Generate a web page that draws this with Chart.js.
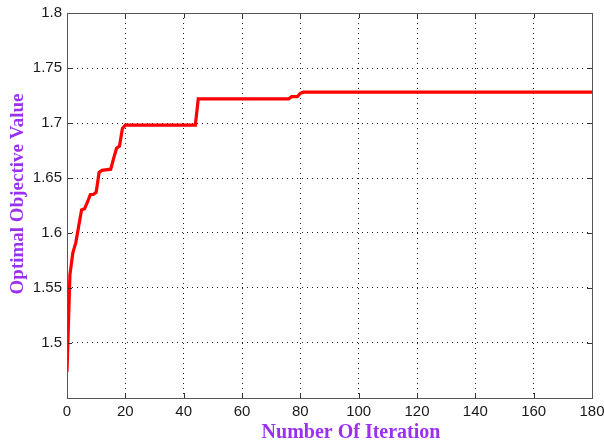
<!DOCTYPE html>
<html>
<head>
<meta charset="utf-8">
<script src="https://cdn.jsdelivr.net/npm/chart.js@4/dist/chart.umd.min.js"></script>
<style>
  html, body { margin: 0; padding: 0; background: #fff; }
  #wrap { width: 604px; height: 444px; position: relative; }
</style>
</head>
<body>
<div id="wrap"><canvas id="c" width="604" height="444"></canvas></div>
<script>
// ── Datos ──────────────────────────────────────────────────────────────
const iterations = [0, 1, 2, 3, 4, 5, 6, 7, 8, 9, 10, 11, 12, 15, 16, 17, 18, 19, 20, 44, 45, 76, 77, 79, 80, 81, 180];
const objValues  = [1.474, 1.562, 1.582, 1.591, 1.606, 1.621, 1.622, 1.628, 1.635, 1.635, 1.637, 1.655, 1.657, 1.658, 1.668, 1.677, 1.679, 1.695, 1.698, 1.698, 1.722, 1.722, 1.724, 1.724, 1.727, 1.728, 1.728];
const xTicks = [0, 20, 40, 60, 80, 100, 120, 140, 160, 180];
const yTicks = [1.45, 1.5, 1.55, 1.6, 1.65, 1.7, 1.75, 1.8];
const xTitle = 'Number Of Iteration';
const yTitle = 'Optimal Objective Value';

const titleColor = '#9b30f2';
const tickFont = { family: '"Liberation Sans", Arial, sans-serif', size: 15 };

// ── Plugin: ticks hacia adentro + títulos estilo MATLAB ────────────────
const matlabBox = {
  id: 'matlabBox',
  afterDraw(chart) {
    const { ctx, chartArea: a, scales: { x, y } } = chart;
    ctx.save();
    ctx.strokeStyle = '#333';
    ctx.lineWidth = 1;
    ctx.beginPath();
    xTicks.forEach(v => {
      const px = Math.round(x.getPixelForValue(v)) + 0.5;
      ctx.moveTo(px, a.bottom); ctx.lineTo(px, a.bottom - 5);
      ctx.moveTo(px, a.top);    ctx.lineTo(px, a.top + 5);
    });
    yTicks.forEach(v => {
      const py = Math.round(y.getPixelForValue(v)) + 0.5;
      ctx.moveTo(a.left, py);  ctx.lineTo(a.left + 5, py);
      ctx.moveTo(a.right, py); ctx.lineTo(a.right - 5, py);
    });
    ctx.stroke();
    // marco
    ctx.strokeStyle = '#555';
    ctx.strokeRect(Math.round(a.left) + 0.5, Math.round(a.top) + 0.5,
                   Math.round(a.right - a.left), Math.round(a.bottom - a.top));

    // títulos
    ctx.fillStyle = titleColor;
    ctx.textAlign = 'center';
    ctx.textBaseline = 'middle';
    ctx.font = 'bold 20px "Liberation Serif", "Times New Roman", serif';
    ctx.fillText(xTitle, 351, 433);
    ctx.translate(18, 194);
    ctx.rotate(-Math.PI / 2);
    ctx.font = 'bold 19px "Liberation Serif", "Times New Roman", serif';
    ctx.fillText(yTitle, 0, 0);
    ctx.restore();
  }
};

const dotted = { color: '#222', lineWidth: 1 };

new Chart(document.getElementById('c'), {
  type: 'line',
  data: {
    datasets: [{
      label: 'Objetivo',
      data: iterations.map((it, i) => ({ x: it, y: objValues[i] })),
      borderColor: '#ff0000',
      borderWidth: 3.2,
      pointRadius: 0,
      fill: false,
      tension: 0
    }]
  },
  options: {
    responsive: false,
    animation: false,
    devicePixelRatio: 1,
    layout: { padding: { top: 13, right: 12, left: 0, bottom: 0 } },
    plugins: { legend: { display: false }, tooltip: { enabled: false } },
    scales: {
      x: {
        type: 'linear',
        min: 0, max: 180,
        afterBuildTicks: s => { s.ticks = xTicks.map(v => ({ value: v })); },
        afterFit: s => { s.height = 46; s.paddingLeft = 0; s.paddingRight = 0; },
        grid: { ...dotted, drawTicks: false },
        border: { display: false, dash: [1, 4] },
        ticks: {
          color: '#1a1a1a',
          padding: 5,
          maxRotation: 0,
          font: tickFont,
          callback: v => String(v)
        }
      },
      y: {
        type: 'linear',
        min: 1.45, max: 1.8,
        afterBuildTicks: s => { s.ticks = yTicks.map(v => ({ value: v })); },
        afterFit: s => { s.width = 67; s.paddingTop = 0; s.paddingBottom = 0; },
        grid: { ...dotted, drawTicks: false },
        border: { display: false, dash: [1, 4] },
        ticks: {
          color: '#1a1a1a',
          padding: 5,
          font: tickFont,
          callback: v => (Math.abs(v - 1.45) < 1e-6 ? '' : String(parseFloat(v.toFixed(2))))
        }
      }
    }
  },
  plugins: [matlabBox]
});
</script>
</body>
</html>
